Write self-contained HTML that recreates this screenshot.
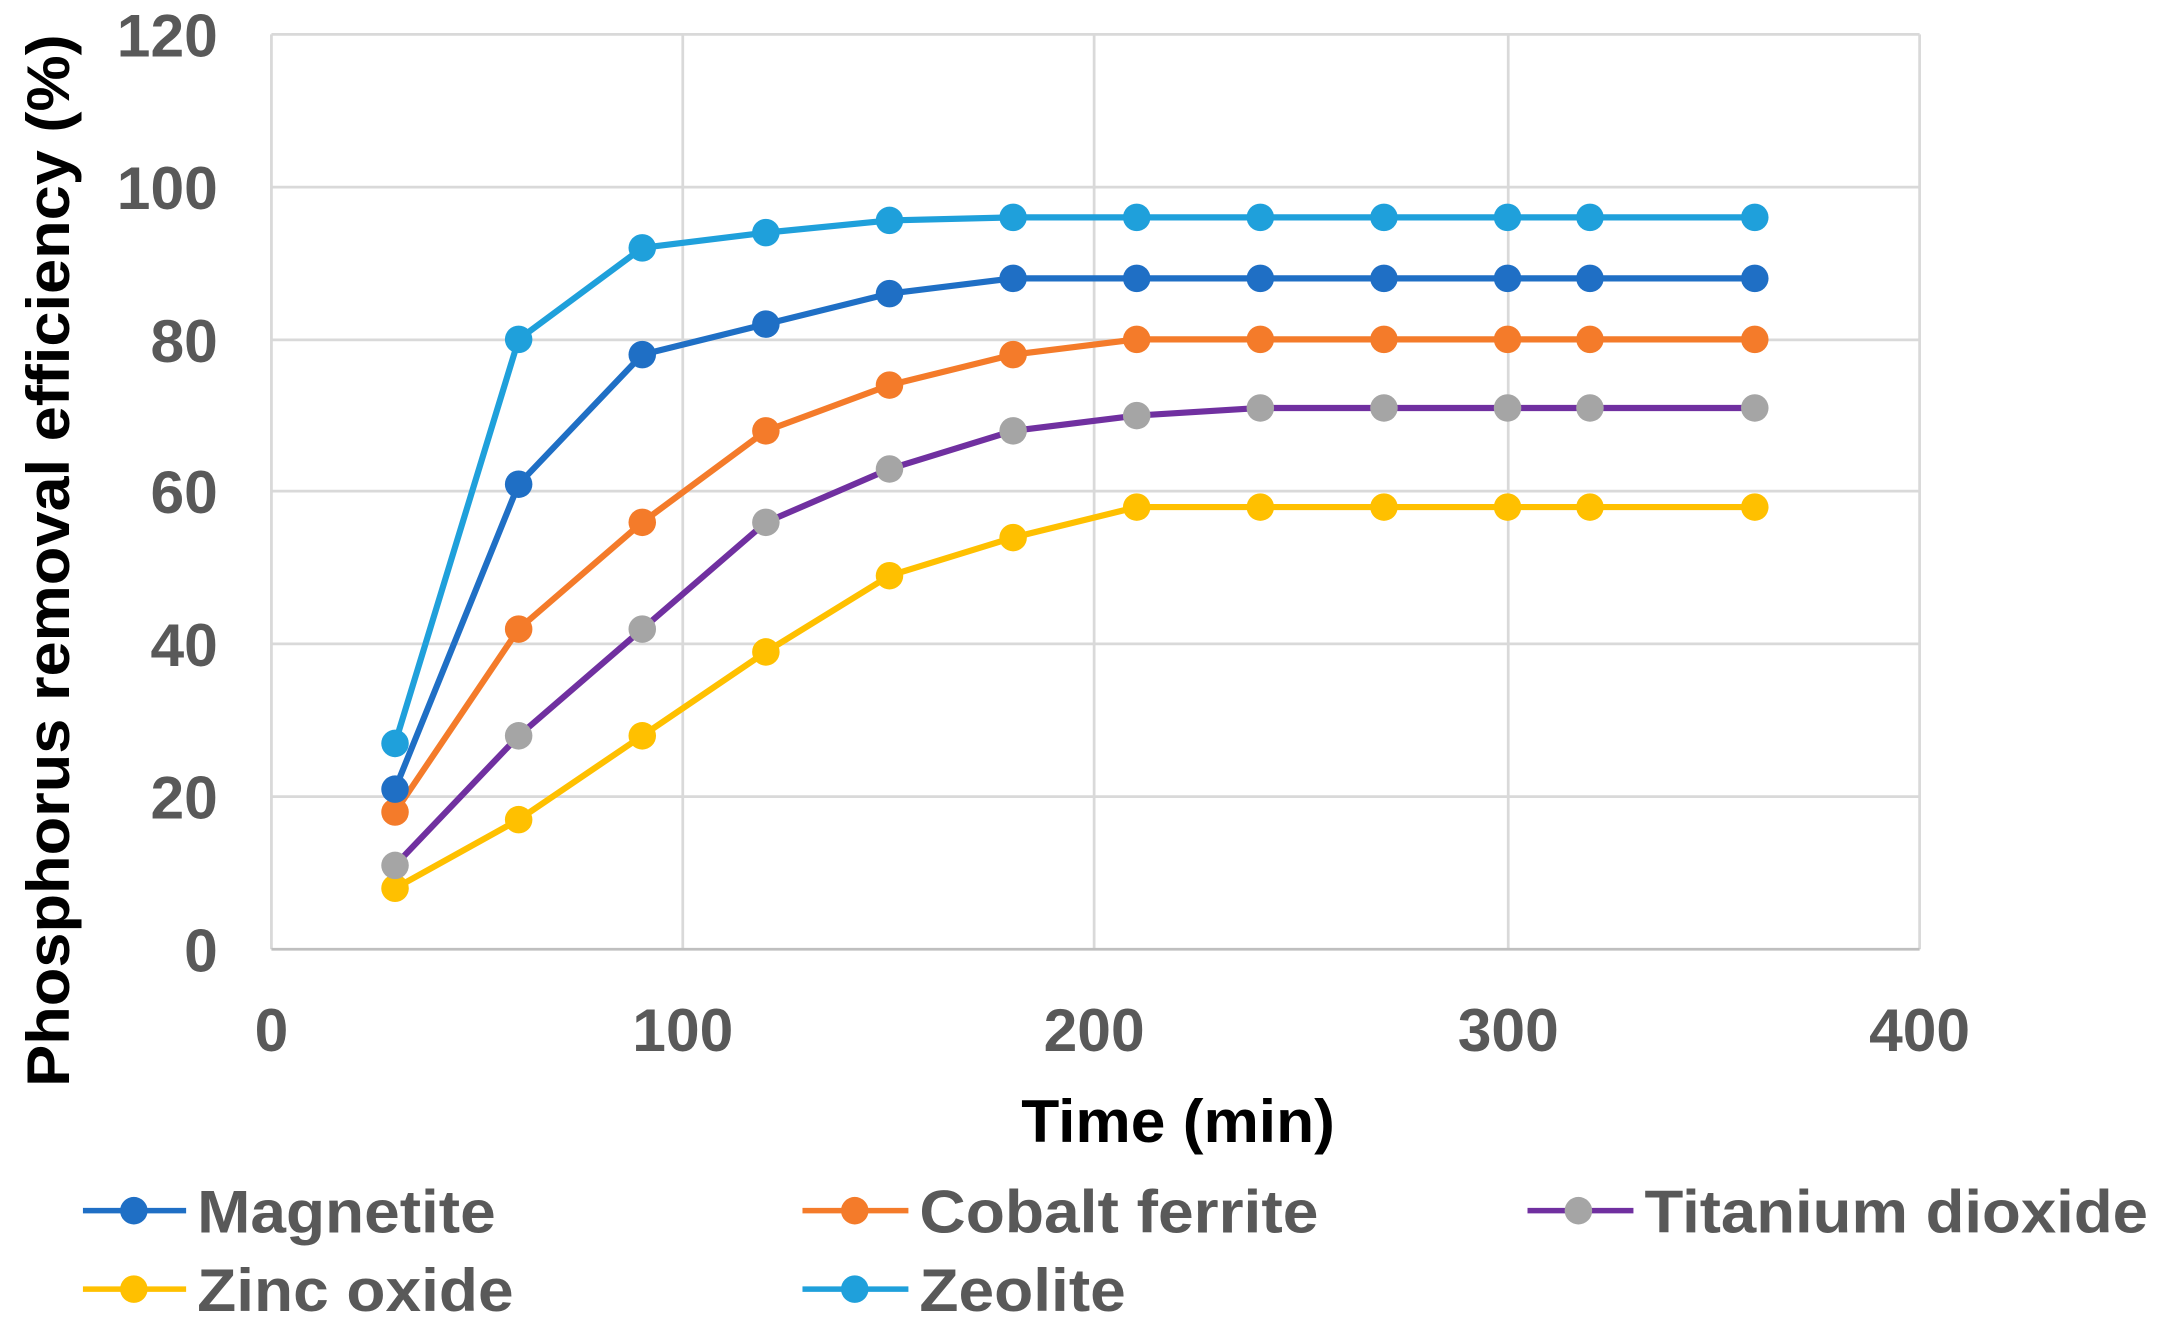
<!DOCTYPE html>
<html><head><meta charset="utf-8"><style>html,body{margin:0;padding:0;background:#fff}svg{display:block}</style></head>
<body>
<svg width="2158" height="1329" viewBox="0 0 1568 966" xmlns="http://www.w3.org/2000/svg" font-family="Liberation Sans, sans-serif">
<g stroke="#d9d9d9" stroke-width="2">
<line x1="197" y1="25" x2="1395" y2="25"/><line x1="197" y1="136" x2="1395" y2="136"/><line x1="197" y1="247" x2="1395" y2="247"/><line x1="197" y1="357" x2="1395" y2="357"/><line x1="197" y1="468" x2="1395" y2="468"/><line x1="197" y1="579" x2="1395" y2="579"/>
<line x1="197" y1="25" x2="197" y2="690"/><line x1="496" y1="25" x2="496" y2="690"/><line x1="795" y1="25" x2="795" y2="690"/><line x1="1096" y1="25" x2="1096" y2="690"/><line x1="1395" y1="25" x2="1395" y2="690"/>
</g>
<line x1="197" y1="690" x2="1395" y2="690" stroke="#bfbfbf" stroke-width="2"/>
<g fill="#595959" font-size="44" font-weight="bold" text-anchor="end">
<text x="158" y="41">120</text><text x="158" y="152">100</text><text x="158" y="263">80</text><text x="158" y="373">60</text><text x="158" y="484">40</text><text x="158" y="595">20</text><text x="158" y="706">0</text>
</g>
<g fill="#595959" font-size="44" font-weight="bold" text-anchor="middle">
<text x="197" y="764">0</text><text x="496" y="764">100</text><text x="795" y="764">200</text><text x="1096" y="764">300</text><text x="1395" y="764">400</text>
</g>
<text x="742" y="830" font-size="44" font-weight="bold" fill="#000" textLength="228" lengthAdjust="spacingAndGlyphs">Time (min)</text>
<text transform="translate(50,790) rotate(-90)" font-size="44" font-weight="bold" fill="#000" textLength="765" lengthAdjust="spacingAndGlyphs">Phosphorus removal efficiency (%)</text>
<g id="series" stroke-width="4.5" fill="none" stroke-linejoin="round"></g>
<g font-size="44" font-weight="bold" fill="#595959">
<line x1="60" y1="880" x2="135" y2="880" stroke="#1f6fc5" stroke-width="4"/><circle cx="97" cy="880" r="10" fill="#1f6fc5"/><text x="143" y="896" textLength="217" lengthAdjust="spacingAndGlyphs">Magnetite</text>
<line x1="583" y1="880" x2="660" y2="880" stroke="#f47b2a" stroke-width="4"/><circle cx="621" cy="880" r="10" fill="#f47b2a"/><text x="668" y="896" textLength="290" lengthAdjust="spacingAndGlyphs">Cobalt ferrite</text>
<line x1="1110" y1="880" x2="1187" y2="880" stroke="#7030a0" stroke-width="4"/><circle cx="1147" cy="880" r="10" fill="#a5a5a5"/><text x="1195" y="896" textLength="366" lengthAdjust="spacingAndGlyphs">Titanium dioxide</text>
<line x1="60" y1="937" x2="135" y2="937" stroke="#ffc000" stroke-width="4"/><circle cx="97" cy="937" r="10" fill="#ffc000"/><text x="143" y="953" textLength="230" lengthAdjust="spacingAndGlyphs">Zinc oxide</text>
<line x1="583" y1="937" x2="660" y2="937" stroke="#1fa0db" stroke-width="4"/><circle cx="621" cy="937" r="10" fill="#1fa0db"/><text x="668" y="953" textLength="150" lengthAdjust="spacingAndGlyphs">Zeolite</text>
</g>
<script>
var xs=[30,60,90,120,150,180,210,240,270,300,320,360];
var S=[
["#ffc000","#ffc000",[8,17,28,39,49,54,58,58,58,58,58,58]],
["#7030a0","#a5a5a5",[11,28,42,56,63,68,70,71,71,71,71,71]],
["#f47b2a","#f47b2a",[18,42,56,68,74,78,80,80,80,80,80,80]],
["#1f6fc5","#1f6fc5",[21,61,78,82,86,88,88,88,88,88,88,88]],
["#1fa0db","#1fa0db",[27,80,92,94,95.6,96,96,96,96,96,96,96]]];
var ns="http://www.w3.org/2000/svg",g=document.getElementById("series");
function X(v){return 197+v*2.995}function Y(v){return 690-v*5.5417}
S.forEach(function(s){var p=document.createElementNS(ns,"polyline");
p.setAttribute("points",xs.map(function(x,i){return X(x)+","+Y(s[2][i])}).join(" "));
p.setAttribute("stroke",s[0]);g.appendChild(p);
xs.forEach(function(x,i){var c=document.createElementNS(ns,"circle");c.setAttribute("cx",X(x));c.setAttribute("cy",Y(s[2][i]));c.setAttribute("r",10);c.setAttribute("fill",s[1]);c.setAttribute("stroke","none");g.appendChild(c);});});
</script>
</svg>
</body></html>
